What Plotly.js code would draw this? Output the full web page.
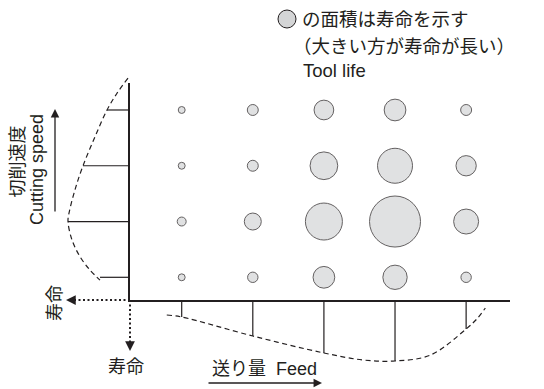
<!DOCTYPE html>
<html>
<head>
<meta charset="utf-8">
<script src="https://cdn.plot.ly/plotly-3.0.1.min.js"></script>
<style>
  html, body { margin: 0; padding: 0; background: #fff; }
  #chart { width: 544px; height: 389px; }
</style>
</head>
<body>
<div id="chart"></div>
<script>
// grid of test conditions
const feedLevels = [1, 2, 3, 4, 5];
const speedLevels = [1, 2, 3, 4];

// tool life (relative, shown as circle area); rows follow speedLevels, columns feedLevels
const toolLife = [
    [12, 27, 118, 148, 27],
    [20, 72, 342, 650, 156],
    [12, 30, 192, 306, 103],
    [12, 30, 97, 118, 30]
];

// life vs cutting speed (left profile)
const speedBarLife = [30, 62, 47, 23];
const speedCurve = [4.57, 4.30, 4.0, 3.52, 3.0, 2.57, 2.15, 2.0, 1.67, 1.37, 1.13, 0.95];
const speedCurveLife = [2, 13, 23, 35, 47, 55, 61, 62, 58, 50, 40, 30];

// life vs feed (bottom profile)
const feedBarLife = [17, 36, 53, 61, 29];
const feedCurve = [0.79, 1.0, 2.0, 3.0, 3.55, 4.0, 4.5, 5.0, 5.15, 5.27];
const feedCurveLife = [15, 17, 36, 53, 60, 61, 55, 29, 19, 8];

const W = 544, H = 389;
const px = x => x / W;
const py = y => 1 - y / H;

const ink = '#231f20';
const jpFont = 'Liberation Sans, Noto Sans CJK JP, sans-serif';

// bubbles
const bx = [], by = [], bs = [];
speedLevels.forEach((s, i) => {
    feedLevels.forEach((f, j) => {
        bx.push(f);
        by.push(s);
        bs.push(toolLife[i][j]);
    });
});

const bubbles = {
    x: bx, y: by,
    mode: 'markers', type: 'scatter',
    marker: {
        size: bs, sizemode: 'area', sizeref: 0.5,
        color: '#d4d5d6', line: { color: ink, width: 1 }
    },
    hoverinfo: 'skip',
    cliponaxis: false
};

// stems from an axis to a profile
const stems = (pos, life, onX) => {
    const a = [], b = [];
    pos.forEach((p, i) => {
        a.push(p, p, null);
        b.push(0, life[i], null);
    });
    return onX ? { x: a, y: b } : { x: b, y: a };
};

const speedStems = Object.assign(stems(speedLevels, speedBarLife, false), {
    xaxis: 'x2', yaxis: 'y2', mode: 'lines', type: 'scatter',
    line: { color: ink, width: 1.2 }, hoverinfo: 'skip'
});
const speedProfile = {
    x: speedCurveLife, y: speedCurve, xaxis: 'x2', yaxis: 'y2',
    mode: 'lines', type: 'scatter',
    line: { color: ink, width: 1.2, dash: '5px,3.5px', shape: 'spline' }, hoverinfo: 'skip'
};

const feedStems = Object.assign(stems(feedLevels, feedBarLife, true), {
    xaxis: 'x', yaxis: 'y3', mode: 'lines', type: 'scatter',
    line: { color: ink, width: 1.2 }, hoverinfo: 'skip'
});
const feedProfile = {
    x: feedCurve, y: feedCurveLife, xaxis: 'x', yaxis: 'y3',
    mode: 'lines', type: 'scatter',
    line: { color: ink, width: 1.2, dash: '5px,3.5px', shape: 'spline' }, hoverinfo: 'skip'
};

const hidden = {
    showline: false, showgrid: false, zeroline: false,
    showticklabels: false, ticks: '', fixedrange: true
};

const arrowHead = (tx, ty, ax, ay, w) => ({
    xref: 'paper', yref: 'paper', x: px(tx), y: py(ty),
    ax: ax, ay: ay, text: '', showarrow: true,
    arrowhead: 2, arrowsize: 1.3, arrowwidth: w || 1.4, arrowcolor: ink, standoff: 0
});

const label = (text, x, y, size, opts) => Object.assign({
    xref: 'paper', yref: 'paper', x: px(x), y: py(y),
    xanchor: 'center', yanchor: 'middle',
    text: text, showarrow: false,
    font: { family: jpFont, size: size, color: ink }
}, opts || {});

const layout = {
    width: W, height: H,
    margin: { l: 0, r: 0, t: 0, b: 0 },
    paper_bgcolor: '#fff', plot_bgcolor: 'rgba(0,0,0,0)',
    showlegend: false,
    xaxis: Object.assign({}, hidden, {
        domain: [px(130), px(510)], range: [0.273, 5.617], anchor: 'y',
        showline: true, linecolor: ink, linewidth: 2
    }),
    yaxis: Object.assign({}, hidden, {
        domain: [py(300), py(83)], range: [0.593, 4.484], anchor: 'x',
        showline: true, linecolor: ink, linewidth: 2
    }),
    xaxis2: Object.assign({}, hidden, {
        domain: [0, px(130)], range: [130, 0], anchor: 'y2'
    }),
    yaxis2: Object.assign({}, hidden, {
        domain: [py(300), py(70)], range: [0.593, 4.717], anchor: 'x2'
    }),
    yaxis3: Object.assign({}, hidden, {
        domain: [0, py(300)], range: [89, 0], anchor: 'x'
    }),
    shapes: [
        { type: 'line', xref: 'paper', yref: 'paper',
          x0: px(130), y0: py(300), x1: px(73), y1: py(300),
          line: { color: ink, width: 2, dash: '2px,2.5px' } },
        { type: 'line', xref: 'paper', yref: 'paper',
          x0: px(130), y0: py(300), x1: px(130), y1: py(343),
          line: { color: ink, width: 2, dash: '2px,2.5px' } },
        { type: 'circle', xref: 'paper', yref: 'paper',
          xsizemode: 'pixel', ysizemode: 'pixel',
          xanchor: px(287), yanchor: py(19),
          x0: -9, x1: 9, y0: -9, y1: 9,
          fillcolor: '#d4d5d6', line: { color: ink, width: 1 } }
    ],
    annotations: [
        arrowHead(66, 300, 9, 0, 1.5),
        arrowHead(130, 351, 0, -9, 1.5),
        arrowHead(55, 109, 0, 104, 1.3),
        arrowHead(322, 383, -115, 0, 1.3),
        label('の面積は寿命を示す', 300, 19, 18.5, { xanchor: 'left' }),
        label('（大きい方が寿命が長い）', 291, 47, 18.5, { xanchor: 'left' }),
        label('Tool life', 301, 70, 18.5, { xanchor: 'left' }),
        label('切削速度', 17.5, 162, 18, { textangle: -90 }),
        label('Cutting speed', 37, 170, 18, { textangle: -90 }),
        label('寿命', 55, 303, 18, { textangle: -90 }),
        label('寿命', 126, 367, 18),
        label('送り量&nbsp;&nbsp;Feed', 210, 369, 18, { xanchor: 'left' })
    ]
};

Plotly.newPlot('chart', [speedStems, speedProfile, feedStems, feedProfile, bubbles], layout,
    { staticPlot: true, displayModeBar: false });
</script>
</body>
</html>
